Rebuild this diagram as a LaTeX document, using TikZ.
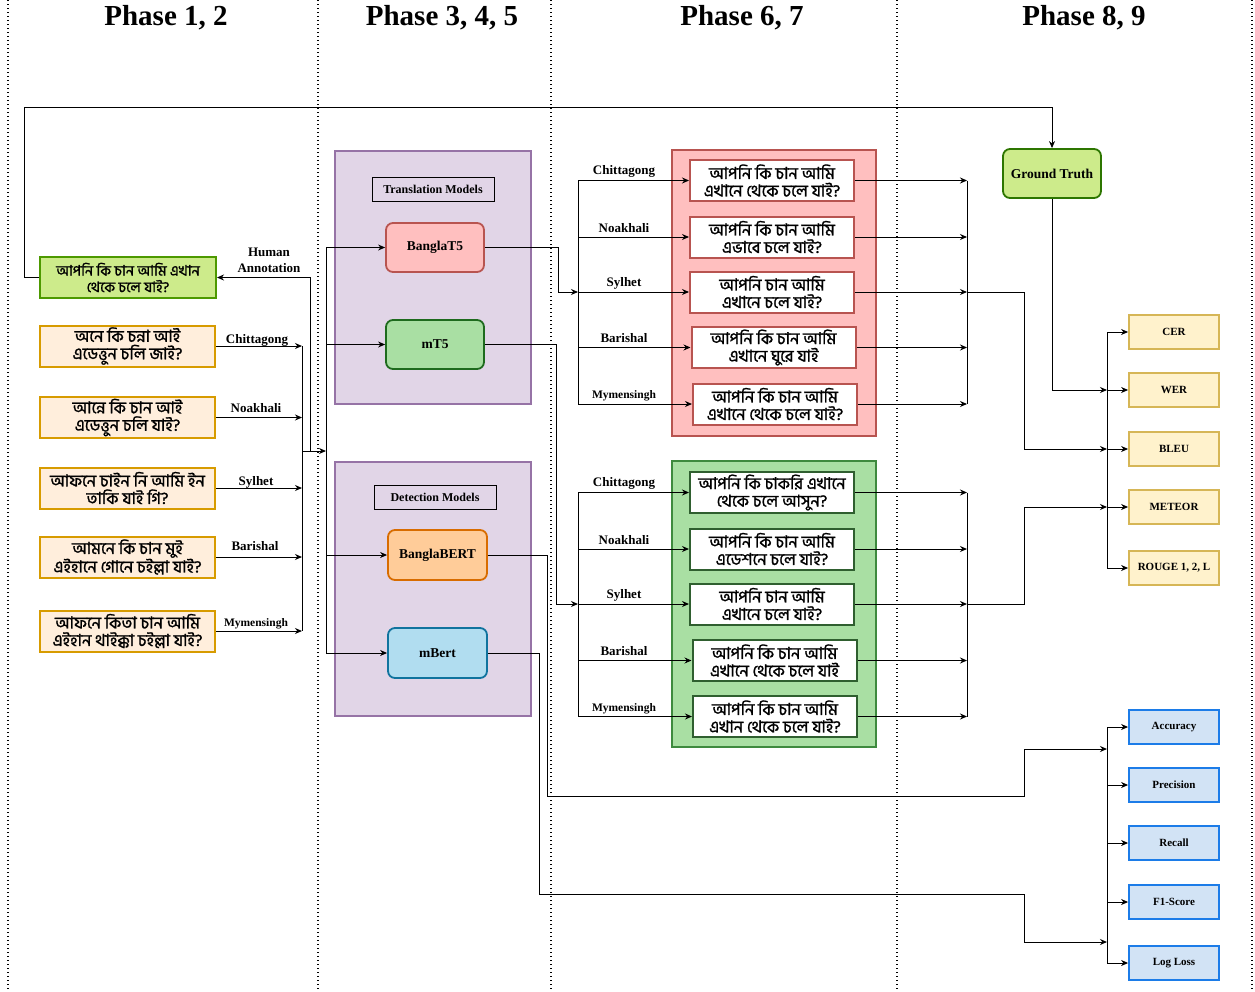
\documentclass[tikz,border=0pt]{standalone}
\usepackage{fontspec}
\setmainfont{Liberation Serif}
\newfontfamily\bn[Script=Bengali,FakeBold=1.3]{Hind Siliguri}
\usetikzlibrary{arrows.meta}
\definecolor{lgfill}{HTML}{CDEB8B}
\definecolor{lgdraw}{HTML}{4D9900}
\definecolor{gtdraw}{HTML}{2D7600}
\definecolor{dfill}{HTML}{FFEEDC}
\definecolor{ddraw}{HTML}{D79B00}
\definecolor{pfill}{HTML}{E1D5E7}
\definecolor{pdraw}{HTML}{9673A6}
\definecolor{rfill}{HTML}{FFBFBF}
\definecolor{rdraw}{HTML}{B85450}
\definecolor{gfill}{HTML}{A9DFA3}
\definecolor{gdraw}{HTML}{3E8A3E}
\definecolor{gbox}{HTML}{2F5F2F}
\definecolor{mtdraw}{HTML}{1E6B1E}
\definecolor{ofill}{HTML}{FFCC99}
\definecolor{odraw}{HTML}{D86C00}
\definecolor{bfill}{HTML}{B1DDF0}
\definecolor{bdraw}{HTML}{10739E}
\definecolor{yfill}{HTML}{FFF2CC}
\definecolor{ydraw}{HTML}{D6B656}
\definecolor{cfill}{HTML}{D2E3F5}
\definecolor{cdraw}{HTML}{1C7CE8}
\tikzset{
  arr/.style={draw, line width=1pt, -{Stealth[length=7pt,width=6pt]}},
  ln/.style={draw, line width=1pt},
  sep/.style={draw, line width=1.3pt, dash pattern=on 1.3pt off 2.7pt},
  phase/.style={font=\fontsize{29}{32}\selectfont\bfseries},
  lab/.style={font=\fontsize{13}{14}\selectfont\bfseries},
  slab/.style={font=\fontsize{11.5}{13}\selectfont\bfseries},
  bntext/.style={font=\bn\fontsize{16.5}{17.5}\selectfont, align=center, inner sep=0pt},
  dial/.style={bntext, draw=ddraw, fill=dfill, line width=2pt, minimum width=175pt, minimum height=41pt},
  rbox/.style={bntext, draw=rdraw, fill=white, line width=2pt, minimum width=164pt, minimum height=41pt},
  gbx/.style={bntext, draw=gbox, fill=white, line width=2pt, minimum width=164pt, minimum height=41pt},
  cont/.style={line width=1.8pt, minimum width=196pt, minimum height=253pt, inner sep=0pt},
  model/.style={rounded corners=7pt, line width=1.8pt, minimum width=98pt, minimum height=49pt, font=\fontsize{13.5}{14}\selectfont\bfseries},
  clab/.style={draw, line width=1pt, fill=none, minimum width=122pt, minimum height=24pt, inner sep=0pt, font=\fontsize{12}{13}\selectfont\bfseries},
  metric/.style={draw=ydraw, fill=yfill, line width=1.8pt, minimum width=90pt, minimum height=34pt, inner sep=0pt, font=\fontsize{11}{12}\selectfont\bfseries},
  cls/.style={draw=cdraw, fill=cfill, line width=1.8pt, minimum width=90pt, minimum height=34pt, inner sep=0pt, font=\fontsize{11}{12}\selectfont\bfseries},
  bigc/.style={line width=2pt, minimum width=204pt, minimum height=286pt, inner sep=0pt}
}
\begin{document}
\begin{tikzpicture}[x=1pt,y=-1pt]
\useasboundingbox (0,0) rectangle (1255,991);
\fill[white] (0,0) rectangle (1255,991);

% separators
\foreach \xx in {8,318,551,897,1252} \draw[sep] (\xx,0) -- (\xx,991);

% phase titles
\node[phase] (ph1) at (166,18) {Phase 1, 2};
\node[phase] (ph2) at (442,18) {Phase 3, 4, 5};
\node[phase] (ph3) at (742,18) {Phase 6, 7};
\node[phase] (ph4) at (1084,18) {Phase 8, 9};

% left column
\node[bntext, font=\bn\fontsize{14.5}{16.5}\selectfont, draw=lgdraw, fill=lgfill, line width=2pt, minimum width=176pt, minimum height=41pt] (lg) at (128,277.5) {আপনি কি চান আমি এখান\\থেকে চলে যাই?};
\node[dial] (d1) at (127.5,346) {অনে কি চন্না আই\\এডেত্তুন চলি জাই?};
\node[dial] (d2) at (127.5,417.5) {আন্নে কি চান আই\\এডেত্তুন চলি যাই?};
\node[dial] (d3) at (127.5,488) {আফনে চাইন নি আমি ইন\\তাকি যাই গি?};
\node[dial] (d4) at (127.5,557) {আমনে কি চান মুই\\এইহানে গোনে চইল্লা যাই?};
\node[dial] (d5) at (127.5,631) {আফনে কিতা চান আমি\\এইহান থাইক্কা চইল্লা যাই?};

\coordinate (busA) at (302,451);
\coordinate (busB) at (326,451);
\foreach \n in {d1,d2,d3,d4,d5} {
  \draw[arr] (\n.east) -- (\n.east -| busA);
}
\node[lab] (l1) at (257,340) {Chittagong};
\node[lab] (l2) at (256,408) {Noakhali};
\node[lab] (l3) at (256,482) {Sylhet};
\node[lab] (l4) at (255,546) {Barishal};
\node[slab] (l5) at (256,624) {Mymensingh};
\draw[ln] (d1.east -| busA) -- (d5.east -| busA);
\draw[arr] (busA) -- (busB);
\coordinate (ha) at (310,451);
\draw[arr] (ha) |- (lg.east);
\node[lab, align=center, font=\fontsize{13}{16}\selectfont\bfseries] (hal) at (269,260) {Human\\Annotation};

% containers
\node[cont, draw=pdraw, fill=pfill] (tc) at (433,277.5) {};
\node[cont, draw=pdraw, fill=pfill, minimum height=254pt] (dc) at (433,589) {};
\node[clab] (tcl) at (433,189) {Translation Models};
\node[clab] (dcl) at (435,497) {Detection Models};
\node[model, draw=rdraw, fill=rfill] (bt5) at (435,247.5) {BanglaT5};
\node[model, draw=mtdraw, fill=gfill] (mt5) at (435,344.5) {mT5};
\node[model, draw=odraw, fill=ofill, minimum width=99pt, minimum height=50pt] (bb) at (437.5,555) {BanglaBERT};
\node[model, draw=bdraw, fill=bfill, minimum width=99pt, minimum height=50pt] (mb) at (437.5,653) {mBert};

\draw[ln] (bt5.west -| busB) -- (mb.west -| busB);
\draw[arr] (bt5.west -| busB) -- (bt5.west);
\draw[arr] (mt5.west -| busB) -- (mt5.west);
\draw[arr] (bb.west -| busB) -- (bb.west);
\draw[arr] (mb.west -| busB) -- (mb.west);

% red group
\node[bigc, draw=rdraw, fill=rfill] (rc) at (774,293) {};
\node[rbox] (r1) at (772,180.5) {আপনি কি চান আমি\\এখানে থেকে চলে যাই?};
\node[rbox] (r2) at (772,237) {আপনি কি চান আমি\\এভাবে চলে যাই?};
\node[rbox] (r3) at (772,292) {আপনি চান আমি\\এখানে চলে যাই?};
\node[rbox] (r4) at (773.5,347.5) {আপনি কি চান আমি\\এখানে ঘুরে যাই};
\node[rbox] (r5) at (775,404) {আপনি কি চান আমি\\এখানে থেকে চলে যাই?};

% green group
\node[bigc, draw=gdraw, fill=gfill] (gc) at (774,604) {};
\node[gbx] (g1) at (772,492.5) {আপনি কি চাকরি এখানে\\থেকে চলে আসুন?};
\node[gbx] (g2) at (772,549) {আপনি কি চান আমি\\এডেশনে চলে যাই?};
\node[gbx] (g3) at (772,604) {আপনি চান আমি\\এখানে চলে যাই?};
\node[gbx] (g4) at (774.5,660.5) {আপনি কি চান আমি\\এখানে থেকে চলে যাই};
\node[gbx] (g5) at (775,716.5) {আপনি কি চান আমি\\এখান থেকে চলে যাই?};

\coordinate (rbus) at (578,0);
\coordinate (obus) at (967,0);
\foreach \n in {r1,r2,r3,r4,r5,g1,g2,g3,g4,g5} {
  \draw[arr] (\n.west -| rbus) -- (\n.west);
  \draw[arr] (\n.east) -- (\n.east -| obus);
}
\draw[ln] (r1.west -| rbus) -- (r5.west -| rbus);
\draw[ln] (g1.west -| rbus) -- (g5.west -| rbus);
\draw[ln] (r1.east -| obus) -- (r5.east -| obus);
\draw[ln] (g1.east -| obus) -- (g5.east -| obus);

\foreach \n/\t in {r1/Chittagong,r2/Noakhali,r3/Sylhet,r4/Barishal,g1/Chittagong,g2/Noakhali,g3/Sylhet,g4/Barishal} {
  \node[lab, font=\fontsize{13}{14}\selectfont\bfseries] at ([yshift=9pt]\n.west -| 624,0) {\t};
}
\node[slab, font=\fontsize{11.5}{12}\selectfont\bfseries] (rl5) at ([yshift=8pt]r5.west -| 624,0) {Mymensingh};
\node[slab, font=\fontsize{11.5}{12}\selectfont\bfseries] (gl5) at ([yshift=8pt]g5.west -| 624,0) {Mymensingh};

\draw[arr] (bt5.east) -- (558,247.5) |- (r3.west -| rbus);
\draw[arr] (mt5.east) -- (556,344.5) |- (g3.west -| rbus);

% ground truth and metrics
\node[model, draw=gtdraw, fill=lgfill, minimum height=49pt] (gt) at (1052,173.5) {Ground Truth};
\draw[arr] (lg.west) -- (24,277.5) -- (24,107) -| (gt.north);

\node[metric] (cer) at (1174,332) {CER};
\node[metric] (wer) at (1174,390) {WER};
\node[metric] (bleu) at (1174,449) {BLEU};
\node[metric] (met) at (1174,507) {METEOR};
\node[metric] (rou) at (1174,568) {ROUGE 1, 2, L};
\node[cls] (acc) at (1174,727) {Accuracy};
\node[cls] (pre) at (1174,785) {Precision};
\node[cls] (rec) at (1174,843) {Recall};
\node[cls] (f1) at (1174,902) {F1-Score};
\node[cls] (ll) at (1174,963) {Log Loss};

\coordinate (mbus) at (1107,0);
\foreach \n in {cer,wer,bleu,met,rou,acc,pre,rec,f1,ll} \draw[arr] (\n.west -| mbus) -- (\n.west);
\draw[ln] (cer.west -| mbus) -- (rou.west -| mbus);
\draw[ln] (acc.west -| mbus) -- (ll.west -| mbus);

\draw[arr] (gt.south) |- (wer.west -| mbus);
\draw[arr] (r3.east -| obus) -- (1024,292) |- (bleu.west -| mbus);
\draw[arr] (g3.east -| obus) -- (1024,604) |- (met.west -| mbus);
\draw[arr] (bb.east) -- (547,555) -- (547,796) -- (1024,796) |- (1107,749);
\draw[arr] (mb.east) -- (539,653) -- (539,894) -- (1024,894) |- (1107,942);
\end{tikzpicture}
\end{document}
